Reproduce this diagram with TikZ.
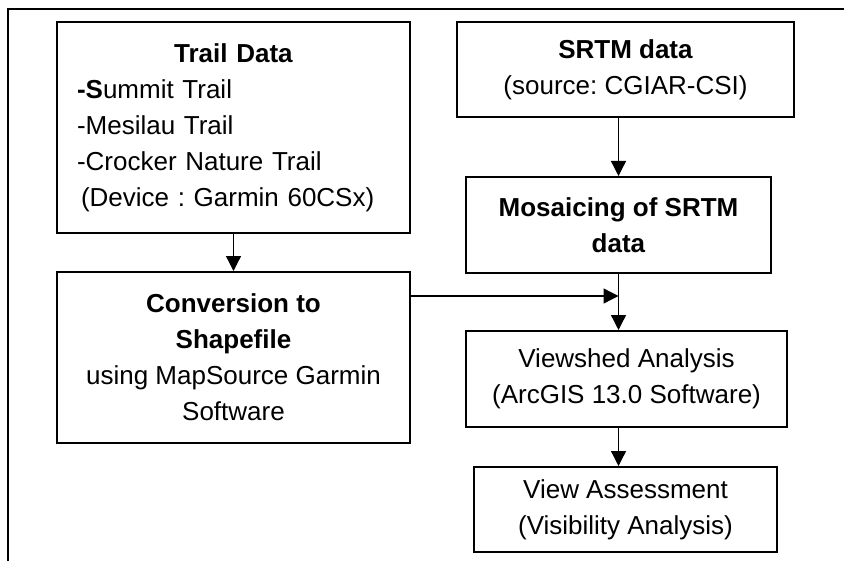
\documentclass[tikz,border=0pt]{standalone}
\usepackage{fontspec}
\setmainfont{Liberation Sans}
\usetikzlibrary{arrows.meta}
\frenchspacing

\begin{document}
\begin{tikzpicture}[x=0.5pt, y=-0.5pt,
    >={Triangle[length=7.5pt,width=7.5pt]},
    box/.style={draw, line width=1pt, align=center, inner sep=0pt,
                font=\fontsize{13}{18}\selectfont},
    link/.style={->, line width=0.65pt}]
    \useasboundingbox (0,0) rectangle (844,561);
    \draw[line width=1pt] (844,9) -- (8,9) -- (8,561);

    \node[box, align=left, text width=156.5pt, inner xsep=10pt, minimum height=105.5pt] (trail) at (233.5,127.5)
        {{\centering\textbf{Trail Data}\par}
         \textbf{-S}ummit Trail\\
         -Mesilau Trail\\
         -Crocker Nature Trail\\
         \hspace*{2pt}(Device : Garmin 60CSx)};
    \node[box, minimum width=168.5pt, minimum height=47.5pt] (srtm)   at (625.5,69.5)
        {\textbf{SRTM data}\\(source: CGIAR-CSI)};
    \node[box, minimum width=152.5pt, minimum height=48pt]   (mosaic) at (618.5,225)
        {\textbf{Mosaicing of SRTM}\\\textbf{data}};
    \node[box, minimum width=176.5pt, minimum height=85.5pt] (conv)   at (233.5,357.5)
        {\textbf{Conversion to}\\\textbf{Shapefile}\\using MapSource Garmin\\Software};
    \node[box, minimum width=160.5pt, minimum height=48pt]   (view)   at (626.5,379)
        {Viewshed Analysis\\(ArcGIS 13.0 Software)};
    \node[box, minimum width=151.5pt, minimum height=42.5pt] (assess) at (625.5,509.5)
        {View Assessment\\(Visibility Analysis)};

    \coordinate (join) at ([yshift=-11pt]mosaic.south);

    \draw[link] (trail) -- (conv);
    \draw[link] (srtm.south -| mosaic.north) -- (mosaic.north);
    \draw[link] (mosaic.south) -- (mosaic.south |- view.north);
    \draw[link] (conv.east |- join) -- (join);
    \draw[link] ([xshift=-4pt]view.south) -- ([xshift=-4pt]view.south |- assess.north);
\end{tikzpicture}
\end{document}
